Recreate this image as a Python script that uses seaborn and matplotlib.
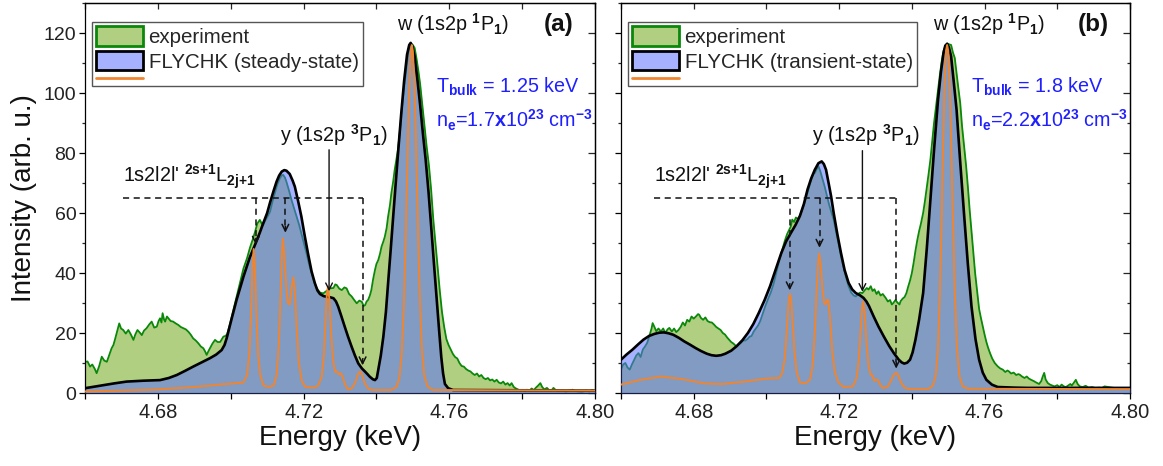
import matplotlib
matplotlib.use("Agg")
import matplotlib.pyplot as plt
import seaborn as sns
from matplotlib.patches import Patch
from matplotlib.lines import Line2D
from matplotlib.legend_handler import HandlerLine2D
from matplotlib.ticker import FixedLocator, MultipleLocator

# ---------------- data ----------------
# Panel (a): experiment
exp_a_x = [4.6600, 4.6607, 4.6614, 4.6620, 4.6627, 4.6632, 4.6639, 4.6646, 4.6653, 4.6660,
           4.6666, 4.6673, 4.6678, 4.6682, 4.6688, 4.6694, 4.6699, 4.6705, 4.6712, 4.6719,
           4.6726, 4.6733, 4.6738, 4.6744, 4.6750, 4.6756, 4.6762, 4.6769, 4.6776, 4.6783,
           4.6790, 4.6797, 4.6802, 4.6806, 4.6810, 4.6813, 4.6817, 4.6820, 4.6825, 4.6829,
           4.6835, 4.6842, 4.6849, 4.6856, 4.6863, 4.6870, 4.6877, 4.6884, 4.6890, 4.6897,
           4.6904, 4.6911, 4.6918, 4.6925, 4.6930, 4.6934, 4.6939, 4.6943, 4.6950, 4.6957,
           4.6964, 4.6971, 4.6976, 4.6980, 4.6985, 4.6990, 4.6998, 4.7008, 4.7017, 4.7025,
           4.7035, 4.7045, 4.7053, 4.7060, 4.7067, 4.7073, 4.7080, 4.7085, 4.7089, 4.7095,
           4.7101, 4.7108, 4.7114, 4.7121, 4.7128, 4.7135, 4.7140, 4.7144, 4.7149, 4.7153,
           4.7160, 4.7167, 4.7174, 4.7181, 4.7188, 4.7194, 4.7201, 4.7208, 4.7215, 4.7222,
           4.7229, 4.7236, 4.7245, 4.7254, 4.7263, 4.7273, 4.7282, 4.7287, 4.7291, 4.7298,
           4.7305, 4.7312, 4.7318, 4.7325, 4.7332, 4.7339, 4.7346, 4.7353, 4.7360, 4.7365,
           4.7369, 4.7373, 4.7377, 4.7382, 4.7386, 4.7391, 4.7396, 4.7400, 4.7405, 4.7410,
           4.7414, 4.7419, 4.7423, 4.7428, 4.7432, 4.7437, 4.7441, 4.7446, 4.7450, 4.7455,
           4.7459, 4.7465, 4.7470, 4.7476, 4.7482, 4.7488, 4.7494, 4.7500, 4.7505, 4.7510,
           4.7515, 4.7520, 4.7526, 4.7532, 4.7538, 4.7544, 4.7550, 4.7556, 4.7562, 4.7568,
           4.7574, 4.7580, 4.7586, 4.7592, 4.7598, 4.7604, 4.7610, 4.7616, 4.7622, 4.7628,
           4.7634, 4.7640, 4.7646, 4.7652, 4.7658, 4.7664, 4.7670, 4.7676, 4.7682, 4.7688,
           4.7694, 4.7700, 4.7706, 4.7712, 4.7718, 4.7724, 4.7730, 4.7736, 4.7742, 4.7748,
           4.7754, 4.7760, 4.7766, 4.7771, 4.7777, 4.7783, 4.7790, 4.7796, 4.7802, 4.7808,
           4.7813, 4.7820, 4.7826, 4.7832, 4.7838, 4.7844, 4.7850, 4.7855, 4.7861, 4.7868,
           4.7874, 4.7880, 4.7886, 4.7892, 4.7900, 4.7910, 4.7920, 4.7930, 4.7938, 4.7945,
           4.7955, 4.7965, 4.7975, 4.7985, 4.7992, 4.8000]
exp_a_y = [10.4, 10.5, 8.8, 9.5, 8.0, 6.6, 9.0, 12.1, 10.8, 10.4,
           12.5, 14.9, 16.0, 17.7, 20.5, 23.2, 21.5, 21.0, 19.8, 21.0,
           19.5, 17.7, 19.5, 21.0, 20.2, 19.3, 20.8, 21.6, 22.8, 23.8,
           21.8, 22.1, 24.0, 24.9, 23.5, 26.6, 24.5, 23.8, 25.5, 24.9,
           24.0, 23.8, 23.2, 22.7, 22.0, 21.6, 21.2, 20.4, 19.5, 18.2,
           17.5, 16.6, 15.5, 14.9, 13.8, 12.7, 14.0, 14.9, 16.5, 17.7,
           17.0, 17.0, 18.0, 18.8, 19.0, 19.5, 23.0, 28.0, 32.5, 36.6,
           41.5, 45.0, 48.5, 51.0, 53.8, 56.5, 57.7, 56.5, 56.0, 57.5,
           58.8, 60.4, 63.5, 66.6, 69.5, 71.6, 72.5, 72.7, 71.8, 70.4,
           67.5, 64.3, 61.5, 58.8, 56.0, 53.2, 50.0, 46.6, 43.0, 39.9,
           37.0, 34.9, 33.5, 33.2, 34.0, 34.9, 35.0, 36.2, 36.0, 34.8,
           34.3, 35.2, 34.9, 33.0, 32.2, 31.0, 29.9, 30.8, 30.4, 29.0,
           29.3, 30.5, 31.0, 32.5, 34.3, 38.0, 41.0, 43.0, 44.3, 46.5,
           48.8, 50.5, 52.1, 55.0, 58.8, 62.5, 66.6, 70.5, 74.3, 78.0,
           81.0, 88.0, 95.0, 102.0, 108.0, 114.0, 116.5, 116.0, 115.0, 111.5,
           107.5, 103.0, 96.0, 89.0, 82.0, 76.0, 68.0, 58.0, 50.0, 42.0,
           34.0, 27.0, 22.0, 18.0, 16.0, 14.5, 13.0, 12.0, 11.5, 10.0,
           9.0, 8.8, 8.0, 7.5, 7.2, 6.5, 6.0, 6.5, 5.5, 6.0,
           5.0, 4.6, 5.0, 4.2, 4.5, 3.8, 4.4, 3.5, 3.2, 3.8,
           2.8, 3.3, 2.5, 3.3, 2.0, 1.5, 1.1, 0.8, 1.0, 0.6,
           1.1, 0.8, 1.5, 1.0, 1.8, 2.5, 3.3, 2.0, 1.2, 1.7,
           1.0, 0.8, 1.7, 1.0, 0.6, 0.8, 0.5, 0.8, 1.1, 0.7,
           0.5, 0.4, 0.8, 0.5, 1.0, 0.6]

# Panel (a): FLYCHK steady-state envelope
mod_a_x = [4.6600, 4.6640, 4.6680, 4.6714, 4.6760, 4.6806, 4.6830, 4.6852, 4.6875, 4.6897,
           4.6920, 4.6943, 4.6960, 4.6975, 4.6983, 4.6989, 4.7002, 4.7016, 4.7035, 4.7053,
           4.7067, 4.7080, 4.7089, 4.7100, 4.7108, 4.7118, 4.7126, 4.7133, 4.7140, 4.7147,
           4.7153, 4.7162, 4.7170, 4.7176, 4.7185, 4.7194, 4.7203, 4.7212, 4.7222, 4.7231,
           4.7238, 4.7245, 4.7255, 4.7263, 4.7273, 4.7282, 4.7289, 4.7295, 4.7304, 4.7313,
           4.7322, 4.7332, 4.7341, 4.7350, 4.7360, 4.7369, 4.7376, 4.7382, 4.7390, 4.7396,
           4.7401, 4.7405, 4.7412, 4.7419, 4.7426, 4.7432, 4.7439, 4.7446, 4.7453, 4.7460,
           4.7468, 4.7476, 4.7484, 4.7490, 4.7494, 4.7499, 4.7505, 4.7512, 4.7520, 4.7528,
           4.7535, 4.7543, 4.7550, 4.7558, 4.7565, 4.7572, 4.7578, 4.7583, 4.7588, 4.7597,
           4.7610, 4.8000]
mod_a_y = [1.6, 2.4, 3.2, 3.8, 4.1, 4.3, 5.0, 6.0, 7.4, 8.8,
           10.2, 11.6, 12.8, 14.3, 16.0, 18.3, 24.5, 31.0, 38.8, 45.4,
           49.5, 53.5, 56.5, 60.0, 63.5, 67.5, 70.5, 72.5, 73.8, 74.3,
           74.1, 73.0, 70.8, 68.8, 64.0, 58.8, 52.5, 46.6, 40.5, 36.6,
           34.2, 33.0, 32.3, 32.1, 31.9, 31.6, 30.5, 28.8, 25.5, 22.1,
           18.8, 15.4, 12.5, 9.9, 8.2, 7.1, 6.2, 5.4, 4.6, 4.3,
           5.0, 7.7, 12.5, 18.8, 27.0, 36.6, 47.5, 58.8, 70.0, 81.0,
           93.0, 104.0, 112.8, 116.0, 116.7, 115.5, 112.0, 105.0, 96.0, 86.0,
           78.0, 67.0, 56.0, 43.0, 32.0, 21.0, 12.0, 6.5, 3.0, 1.6,
           1.0, 0.8]

# Panel (a): FLYCHK line spectrum
lin_a_x = [4.6600, 4.6700, 4.6800, 4.6900, 4.6970, 4.7035, 4.7045, 4.7051, 4.7056, 4.7060,
           4.7063, 4.7066, 4.7070, 4.7075, 4.7081, 4.7090, 4.7105, 4.7118, 4.7126, 4.7132,
           4.7137, 4.7140, 4.7143, 4.7147, 4.7152, 4.7157, 4.7162, 4.7167, 4.7172, 4.7176,
           4.7181, 4.7187, 4.7195, 4.7205, 4.7230, 4.7240, 4.7250, 4.7256, 4.7261, 4.7264,
           4.7267, 4.7271, 4.7276, 4.7282, 4.7287, 4.7292, 4.7297, 4.7302, 4.7307, 4.7314,
           4.7322, 4.7332, 4.7342, 4.7349, 4.7355, 4.7361, 4.7368, 4.7378, 4.7390, 4.7440,
           4.7455, 4.7463, 4.7470, 4.7476, 4.7481, 4.7486, 4.7490, 4.7494, 4.7497, 4.7500,
           4.7504, 4.7508, 4.7513, 4.7518, 4.7524, 4.7531, 4.7540, 4.7555, 4.8000]
lin_a_y = [0.5, 0.8, 1.2, 2.0, 2.8, 3.5, 6.0, 13.0, 27.0, 42.0,
           48.0, 43.0, 28.0, 13.0, 6.0, 2.5, 2.0, 2.5, 6.0, 16.0,
           33.0, 45.0, 51.5, 46.0, 36.0, 30.0, 29.5, 35.0, 38.5, 34.0,
           22.0, 10.0, 4.0, 2.0, 1.8, 2.5, 5.5, 13.0, 26.0, 33.0,
           35.5, 31.0, 19.0, 10.0, 7.0, 7.2, 6.2, 6.6, 5.5, 2.8,
           1.2, 1.5, 3.5, 6.2, 7.2, 6.0, 3.2, 1.4, 1.0, 1.0,
           2.0, 5.0, 14.0, 32.0, 55.0, 82.0, 101.0, 113.0, 116.0, 114.0,
           104.0, 86.0, 60.0, 36.0, 16.0, 6.0, 2.2, 1.0, 0.8]

# Panel (b): experiment
exp_b_x = [4.6600, 4.6606, 4.6612, 4.6618, 4.6624, 4.6630, 4.6636, 4.6642, 4.6648, 4.6654,
           4.6660, 4.6666, 4.6672, 4.6678, 4.6684, 4.6687, 4.6692, 4.6697, 4.6703, 4.6710,
           4.6716, 4.6722, 4.6728, 4.6733, 4.6740, 4.6746, 4.6752, 4.6758, 4.6764, 4.6770,
           4.6776, 4.6782, 4.6788, 4.6794, 4.6800, 4.6806, 4.6812, 4.6815, 4.6820, 4.6826,
           4.6832, 4.6838, 4.6844, 4.6850, 4.6856, 4.6862, 4.6868, 4.6874, 4.6880, 4.6886,
           4.6892, 4.6897, 4.6903, 4.6909, 4.6915, 4.6918, 4.6924, 4.6930, 4.6936, 4.6942,
           4.6948, 4.6954, 4.6959, 4.6965, 4.6971, 4.6977, 4.6983, 4.6990, 4.6997, 4.7005,
           4.7012, 4.7020, 4.7028, 4.7035, 4.7043, 4.7050, 4.7057, 4.7063, 4.7067, 4.7071,
           4.7076, 4.7081, 4.7087, 4.7092, 4.7098, 4.7104, 4.7110, 4.7117, 4.7123, 4.7129,
           4.7133, 4.7138, 4.7143, 4.7148, 4.7154, 4.7160, 4.7166, 4.7172, 4.7178, 4.7185,
           4.7192, 4.7199, 4.7205, 4.7212, 4.7219, 4.7226, 4.7233, 4.7240, 4.7246, 4.7252,
           4.7258, 4.7264, 4.7270, 4.7276, 4.7281, 4.7287, 4.7292, 4.7297, 4.7303, 4.7308,
           4.7314, 4.7320, 4.7328, 4.7334, 4.7340, 4.7345, 4.7349, 4.7355, 4.7360, 4.7366,
           4.7369, 4.7375, 4.7380, 4.7385, 4.7390, 4.7395, 4.7400, 4.7405, 4.7410, 4.7415,
           4.7420, 4.7425, 4.7431, 4.7436, 4.7441, 4.7446, 4.7451, 4.7456, 4.7461, 4.7466,
           4.7472, 4.7477, 4.7482, 4.7487, 4.7492, 4.7497, 4.7503, 4.7508, 4.7513, 4.7518,
           4.7523, 4.7528, 4.7533, 4.7538, 4.7544, 4.7549, 4.7554, 4.7559, 4.7564, 4.7569,
           4.7574, 4.7580, 4.7585, 4.7590, 4.7595, 4.7600, 4.7605, 4.7610, 4.7615, 4.7621,
           4.7628, 4.7636, 4.7643, 4.7650, 4.7657, 4.7663, 4.7667, 4.7673, 4.7680, 4.7687,
           4.7693, 4.7697, 4.7703, 4.7710, 4.7716, 4.7722, 4.7728, 4.7735, 4.7742, 4.7750,
           4.7756, 4.7760, 4.7764, 4.7768, 4.7774, 4.7780, 4.7786, 4.7792, 4.7800, 4.7806,
           4.7812, 4.7818, 4.7824, 4.7830, 4.7836, 4.7840, 4.7846, 4.7851, 4.7856, 4.7862,
           4.7870, 4.7878, 4.7886, 4.7895, 4.7905, 4.7915, 4.7923, 4.7930, 4.7940, 4.7950,
           4.7960, 4.7970, 4.7980, 4.7990, 4.8000]
exp_b_y = [7.8, 9.5, 10.0, 8.5, 7.8, 9.5, 11.0, 12.5, 13.3, 12.0,
           14.5, 15.5, 16.7, 19.0, 21.5, 23.3, 22.0, 20.6, 21.5, 20.5,
           21.5, 20.0, 21.2, 21.7, 20.5, 21.5, 20.3, 21.0, 22.0, 23.5,
           22.5, 24.4, 23.8, 25.5, 24.8, 25.5, 26.3, 26.1, 25.0, 24.4,
           25.2, 24.0, 23.6, 23.5, 22.8, 22.0, 21.5, 21.0, 20.0, 19.5,
           18.5, 17.8, 17.0, 16.5, 15.8, 15.6, 16.2, 16.7, 17.5, 17.5,
           18.0, 18.8, 19.0, 20.5, 21.5, 22.5, 24.0, 26.5, 29.0, 31.5,
           33.5, 36.5, 40.5, 44.0, 47.5, 50.5, 53.0, 54.5, 55.5, 57.8,
           57.0, 58.5, 58.0, 59.0, 61.0, 63.0, 65.6, 68.5, 71.0, 73.0,
           73.3, 74.5, 75.6, 74.0, 71.5, 68.9, 66.0, 63.0, 60.5, 57.8,
           53.5, 49.5, 45.6, 42.0, 38.5, 35.6, 33.5, 32.5, 32.2, 33.0,
           33.5, 33.3, 34.2, 35.0, 34.5, 35.6, 34.0, 34.6, 33.0, 33.9,
           32.5, 33.0, 31.7, 30.5, 31.0, 29.5, 30.0, 31.0, 30.2, 29.5,
           30.6, 31.5, 32.0, 33.3, 35.5, 37.5, 40.0, 43.5, 47.5, 51.0,
           54.0, 56.5, 60.0, 64.0, 68.5, 73.0, 77.8, 84.0, 90.0, 95.0,
           101.0, 106.0, 110.5, 114.0, 115.6, 116.5, 116.2, 116.0, 113.5, 111.7,
           106.5, 101.5, 96.7, 89.0, 82.0, 76.0, 68.9, 61.0, 54.0, 47.0,
           40.0, 33.5, 28.0, 25.0, 22.2, 19.5, 17.0, 15.0, 13.3, 11.5,
           10.0, 8.9, 8.2, 7.8, 7.0, 7.5, 7.2, 6.5, 6.8, 6.0,
           6.3, 6.1, 5.5, 5.0, 5.5, 4.8, 4.4, 4.0, 3.5, 3.0,
           4.0, 5.5, 6.7, 4.5, 3.3, 2.8, 2.5, 2.2, 2.6, 2.0,
           2.8, 2.2, 2.0, 2.5, 3.0, 2.5, 3.5, 4.4, 3.0, 2.2,
           2.0, 2.4, 1.8, 2.0, 1.7, 1.8, 1.7, 2.2, 2.0, 1.8,
           1.6, 1.5, 1.6, 1.4, 1.3]

# Panel (b): FLYCHK transient-state envelope
mod_b_x = [4.6600, 4.6615, 4.6631, 4.6647, 4.6662, 4.6677, 4.6692, 4.6705, 4.6718, 4.6731,
           4.6744, 4.6759, 4.6774, 4.6790, 4.6805, 4.6820, 4.6836, 4.6849, 4.6862, 4.6875,
           4.6887, 4.6903, 4.6918, 4.6934, 4.6949, 4.6964, 4.6979, 4.6995, 4.7010, 4.7025,
           4.7041, 4.7054, 4.7067, 4.7080, 4.7092, 4.7103, 4.7113, 4.7123, 4.7133, 4.7143,
           4.7152, 4.7158, 4.7164, 4.7171, 4.7178, 4.7185, 4.7195, 4.7205, 4.7215, 4.7226,
           4.7236, 4.7246, 4.7257, 4.7267, 4.7275, 4.7282, 4.7295, 4.7308, 4.7323, 4.7338,
           4.7351, 4.7364, 4.7372, 4.7379, 4.7387, 4.7395, 4.7402, 4.7410, 4.7420, 4.7431,
           4.7441, 4.7451, 4.7461, 4.7472, 4.7480, 4.7487, 4.7492, 4.7497, 4.7502, 4.7508,
           4.7515, 4.7523, 4.7533, 4.7544, 4.7554, 4.7564, 4.7575, 4.7585, 4.7595, 4.7605,
           4.7620, 4.7636, 4.7680, 4.7718, 4.8000]
mod_b_y = [11.1, 12.8, 14.4, 16.2, 17.8, 19.0, 19.7, 20.1, 20.2, 19.9,
           19.4, 18.4, 17.2, 16.1, 15.0, 14.0, 13.1, 12.6, 12.4, 12.6,
           13.1, 14.1, 15.6, 17.6, 20.0, 23.0, 26.7, 31.0, 35.6, 41.0,
           46.7, 50.5, 53.3, 56.0, 59.0, 63.0, 67.8, 71.5, 74.4, 76.6,
           77.2, 76.3, 74.4, 70.0, 65.5, 60.0, 53.0, 46.7, 41.0, 36.7,
           34.5, 33.3, 32.6, 31.7, 30.5, 29.0, 25.5, 22.2, 18.8, 15.6,
           13.2, 11.1, 10.2, 9.8, 10.1, 11.1, 13.5, 17.8, 24.5, 33.3,
           48.0, 64.4, 81.0, 97.8, 107.0, 113.3, 115.8, 116.4, 115.2, 112.2,
           104.0, 94.4, 77.0, 58.9, 43.0, 28.9, 18.0, 11.1, 6.8, 4.4,
           2.8, 2.0, 1.8, 1.7, 1.7]

# Panel (b): FLYCHK line spectrum
lin_b_x = [4.6600, 4.6650, 4.6710, 4.6770, 4.6830, 4.6880, 4.6940, 4.7000, 4.7035, 4.7043,
           4.7050, 4.7055, 4.7059, 4.7062, 4.7065, 4.7068, 4.7072, 4.7077, 4.7083, 4.7092,
           4.7108, 4.7120, 4.7127, 4.7133, 4.7138, 4.7142, 4.7145, 4.7149, 4.7154, 4.7159,
           4.7163, 4.7167, 4.7170, 4.7175, 4.7181, 4.7188, 4.7198, 4.7212, 4.7238, 4.7248,
           4.7254, 4.7259, 4.7263, 4.7266, 4.7270, 4.7275, 4.7281, 4.7287, 4.7292, 4.7297,
           4.7302, 4.7307, 4.7314, 4.7322, 4.7334, 4.7343, 4.7350, 4.7357, 4.7363, 4.7370,
           4.7380, 4.7392, 4.7445, 4.7458, 4.7466, 4.7472, 4.7477, 4.7482, 4.7486, 4.7490,
           4.7494, 4.7497, 4.7500, 4.7504, 4.7508, 4.7513, 4.7518, 4.7524, 4.7531, 4.7540,
           4.7555, 4.8000]
lin_b_y = [2.8, 4.3, 5.5, 4.6, 3.2, 3.0, 3.8, 4.8, 5.0, 6.5,
           11.0, 19.0, 27.0, 31.5, 33.0, 31.0, 24.0, 14.0, 7.0, 3.5,
           3.2, 4.5, 9.0, 20.0, 34.0, 43.0, 46.5, 43.0, 35.0, 30.0,
           29.5, 31.0, 31.0, 25.0, 14.0, 7.0, 3.5, 2.0, 2.2, 5.0,
           11.0, 21.0, 28.0, 30.5, 27.0, 17.0, 9.0, 6.0, 5.8, 4.0,
           4.5, 4.2, 2.5, 1.6, 2.2, 4.2, 6.0, 6.8, 5.8, 3.5,
           1.8, 1.3, 1.3, 2.5, 6.0, 15.0, 33.0, 58.0, 83.0, 103.0,
           114.0, 116.0, 114.0, 103.0, 84.0, 58.0, 34.0, 15.0, 5.5, 2.2,
           1.4, 1.3]

x_major_ticks = [4.68, 4.72, 4.76, 4.80]
x_minor_ticks = [4.66, 4.70, 4.74, 4.78]
legend_labels_a = ["experiment", "FLYCHK (steady-state)", ""]
legend_labels_b = ["experiment", "FLYCHK (transient-state)", ""]

# ---------------- style ----------------
GREEN_FILL = "#b0cf80"
GREEN_LINE = "#0a880a"
BLUE_FILL = "#596fff"
BLUE_ALPHA = 0.535
BLUE_LEGEND = "#a6b2ff"
ORANGE = "#f08530"
TXT_BLUE = "#2020ff"
ANN = 14.2

sns.set_theme(style="ticks")
plt.rcParams["font.family"] = ["Liberation Sans", "DejaVu Sans"]
plt.rcParams["mathtext.fontset"] = "custom"
plt.rcParams["mathtext.rm"] = "Liberation Sans"
plt.rcParams["mathtext.it"] = "Liberation Sans:italic"
plt.rcParams["mathtext.bf"] = "Liberation Sans:bold"
plt.rcParams["axes.linewidth"] = 0.9
plt.rcParams["axes.edgecolor"] = "black"

W, H = 1163, 466
fig = plt.figure(figsize=(W / 100, H / 100), dpi=100)
axA = fig.add_axes([85 / W, 73 / H, 510 / W, 390 / H])
axB = fig.add_axes([621 / W, 73 / H, 509 / W, 390 / H])


class ShortLineHandler(HandlerLine2D):
    """Legend row for the line-spectrum entry: a thin row under the patches."""
    def legend_artist(self, legend, orig_handle, fontsize, handlebox):
        handlebox.height = 0.3 * fontsize
        return super().legend_artist(legend, orig_handle, fontsize, handlebox)


def style_axes(ax, ylabels=True):
    ax.set_xlim(4.66, 4.80)
    ax.set_ylim(0, 130)
    ax.xaxis.set_major_locator(FixedLocator(x_major_ticks))
    ax.xaxis.set_minor_locator(FixedLocator(x_minor_ticks))
    ax.xaxis.set_major_formatter("{x:.2f}")
    ax.yaxis.set_major_locator(MultipleLocator(20))
    ax.yaxis.set_minor_locator(MultipleLocator(10))
    ax.tick_params(axis="x", which="both", direction="out", length=4.5, width=0.9,
                   top=False, labelsize=14.5, pad=3, colors="black")
    ax.tick_params(axis="y", which="major", direction="out", length=4.3, width=0.9,
                   right=False, labelsize=14, pad=2, labelleft=ylabels, colors="black")
    ax.tick_params(axis="y", which="minor", direction="out", length=2.3, width=0.9,
                   right=False)
    ax.tick_params(axis="x", labelcolor="#222222")
    ax.tick_params(axis="y", labelcolor="#222222")
    top = ax.secondary_xaxis("top")
    top.xaxis.set_major_locator(FixedLocator(x_major_ticks + x_minor_ticks))
    top.tick_params(direction="in", length=4.3, width=0.9, labeltop=False)
    right = ax.secondary_yaxis("right")
    right.yaxis.set_major_locator(MultipleLocator(20))
    right.yaxis.set_minor_locator(MultipleLocator(10))
    right.tick_params(which="major", direction="in", length=5, width=0.9, labelright=False)
    right.tick_params(which="minor", direction="in", length=2.5, width=0.9)
    for s in ax.spines.values():
        s.set_linewidth(0.9)
        s.set_color("black")
    ax.set_xlabel("Energy (keV)", fontsize=20, labelpad=2, color="#111111")
    ax.set_ylabel("")


def draw_panel(ax, ex, ey, mx, my, lx, ly):
    ax.fill_between(ex, ey, 0, color=GREEN_FILL, lw=0, zorder=1)
    sns.lineplot(x=ex, y=ey, ax=ax, color=GREEN_LINE, lw=1.3, sort=False,
                 estimator=None, zorder=2)
    ax.fill_between(mx, my, 0, color=BLUE_FILL, alpha=BLUE_ALPHA, lw=0, zorder=3)
    sns.lineplot(x=mx, y=my, ax=ax, color="black", lw=1.9, sort=False,
                 estimator=None, zorder=4)
    sns.lineplot(x=lx, y=ly, ax=ax, color=ORANGE, lw=1.4, sort=False,
                 estimator=None, zorder=5)


def legend(ax, labels):
    handles = [Patch(facecolor=GREEN_FILL, edgecolor=GREEN_LINE, lw=2),
               Patch(facecolor=BLUE_LEGEND, edgecolor="black", lw=2),
               Line2D([], [], color=ORANGE, lw=2)]
    leg = ax.legend(handles, labels, loc="upper left", bbox_to_anchor=(0.0137, 0.951),
                    borderaxespad=0, fontsize=14.8, handlelength=2.3, handleheight=1.07,
                    handletextpad=0.25, labelspacing=0.2, borderpad=0.2,
                    fancybox=False, framealpha=1, edgecolor="#555555",
                    handler_map={Line2D: ShortLineHandler()})
    leg.get_frame().set_linewidth(1.0)
    leg.get_texts()[2].set_fontsize(1)
    leg.set_zorder(10)


def annotations(ax, tag, tbulk, ne, wx, yx, yarr, dash_left, dash_right, dv1, dv2, tips):
    ax.text(wx, 123, r"w (1s2p $^{\mathbf{1}}$P$_{\mathbf{1}}$)", ha="center", va="center",
            fontsize=ANN, color="#111111", zorder=12)
    ax.text(4.790, 123, tag, ha="center", va="center", fontsize=17.5, fontweight="bold",
            color="#111111", zorder=12)
    ax.text(4.7563, 102, tbulk, ha="left", va="center", fontsize=ANN, color=TXT_BLUE, zorder=12)
    ax.text(4.7563, 91, ne, ha="left", va="center", fontsize=ANN, color=TXT_BLUE, zorder=12)
    ax.text(yx, 86, r"y (1s2p $^{\mathbf{3}}$P$_{\mathbf{1}}$)", ha="center", va="center",
            fontsize=ANN, color="#111111", zorder=12)
    ax.text(dash_left, 67.3, r"1s2l2l' $^{\mathbf{2s{+}1}}$L$_{\mathbf{2j{+}1}}$", ha="left",
            va="bottom", fontsize=ANN, color="#111111", zorder=12)
    dash = dict(color="#111111", lw=1.1, ls=(0, (4, 3)), zorder=12)
    ax.plot([dash_left, dash_right], [65, 65], **dash)
    for xv, tip in zip([dv1, dv2, dash_right], tips):
        ax.plot([xv, xv], [65, tip + 3], **dash)
        ax.annotate("", xy=(xv, tip), xytext=(xv, tip + 4),
                    arrowprops=dict(arrowstyle="->", lw=1.1, color="#111111",
                                    mutation_scale=12), zorder=12)
    ax.annotate("", xy=(yarr[0], yarr[2]), xytext=(yarr[0], yarr[1]),
                arrowprops=dict(arrowstyle="->", lw=1.0, color="#111111",
                                mutation_scale=12), zorder=12)


draw_panel(axA, exp_a_x, exp_a_y, mod_a_x, mod_a_y, lin_a_x, lin_a_y)
draw_panel(axB, exp_b_x, exp_b_y, mod_b_x, mod_b_y, lin_b_x, lin_b_y)
style_axes(axA, ylabels=True)
style_axes(axB, ylabels=False)
axA.set_ylabel("Intensity (arb. u.)", fontsize=20, labelpad=5, color="#111111")
legend(axA, legend_labels_a)
legend(axB, legend_labels_b)

annotations(axA, "(a)", r"T$_{\mathbf{bulk}}$ = 1.25 keV",
            r"n$_{\mathbf{e}}$=1.7$\mathbf{x}$10$^{\mathbf{23}}$ cm$^{\mathbf{{-}3}}$",
            4.761, 4.7283, (4.7270, 82, 33), 4.6704, 4.7362, 4.7069, 4.7150,
            [48.5, 52.5, 8.3])
annotations(axB, "(b)", r"T$_{\mathbf{bulk}}$ = 1.8 keV",
            r"n$_{\mathbf{e}}$=2.2$\mathbf{x}$10$^{\mathbf{23}}$ cm$^{\mathbf{{-}3}}$",
            4.7613, 4.7273, (4.7264, 81.7, 32.8), 4.6692, 4.7357, 4.7064, 4.7146,
            [33.3, 47.5, 7.2])

fig.savefig("out.png", dpi=100)
